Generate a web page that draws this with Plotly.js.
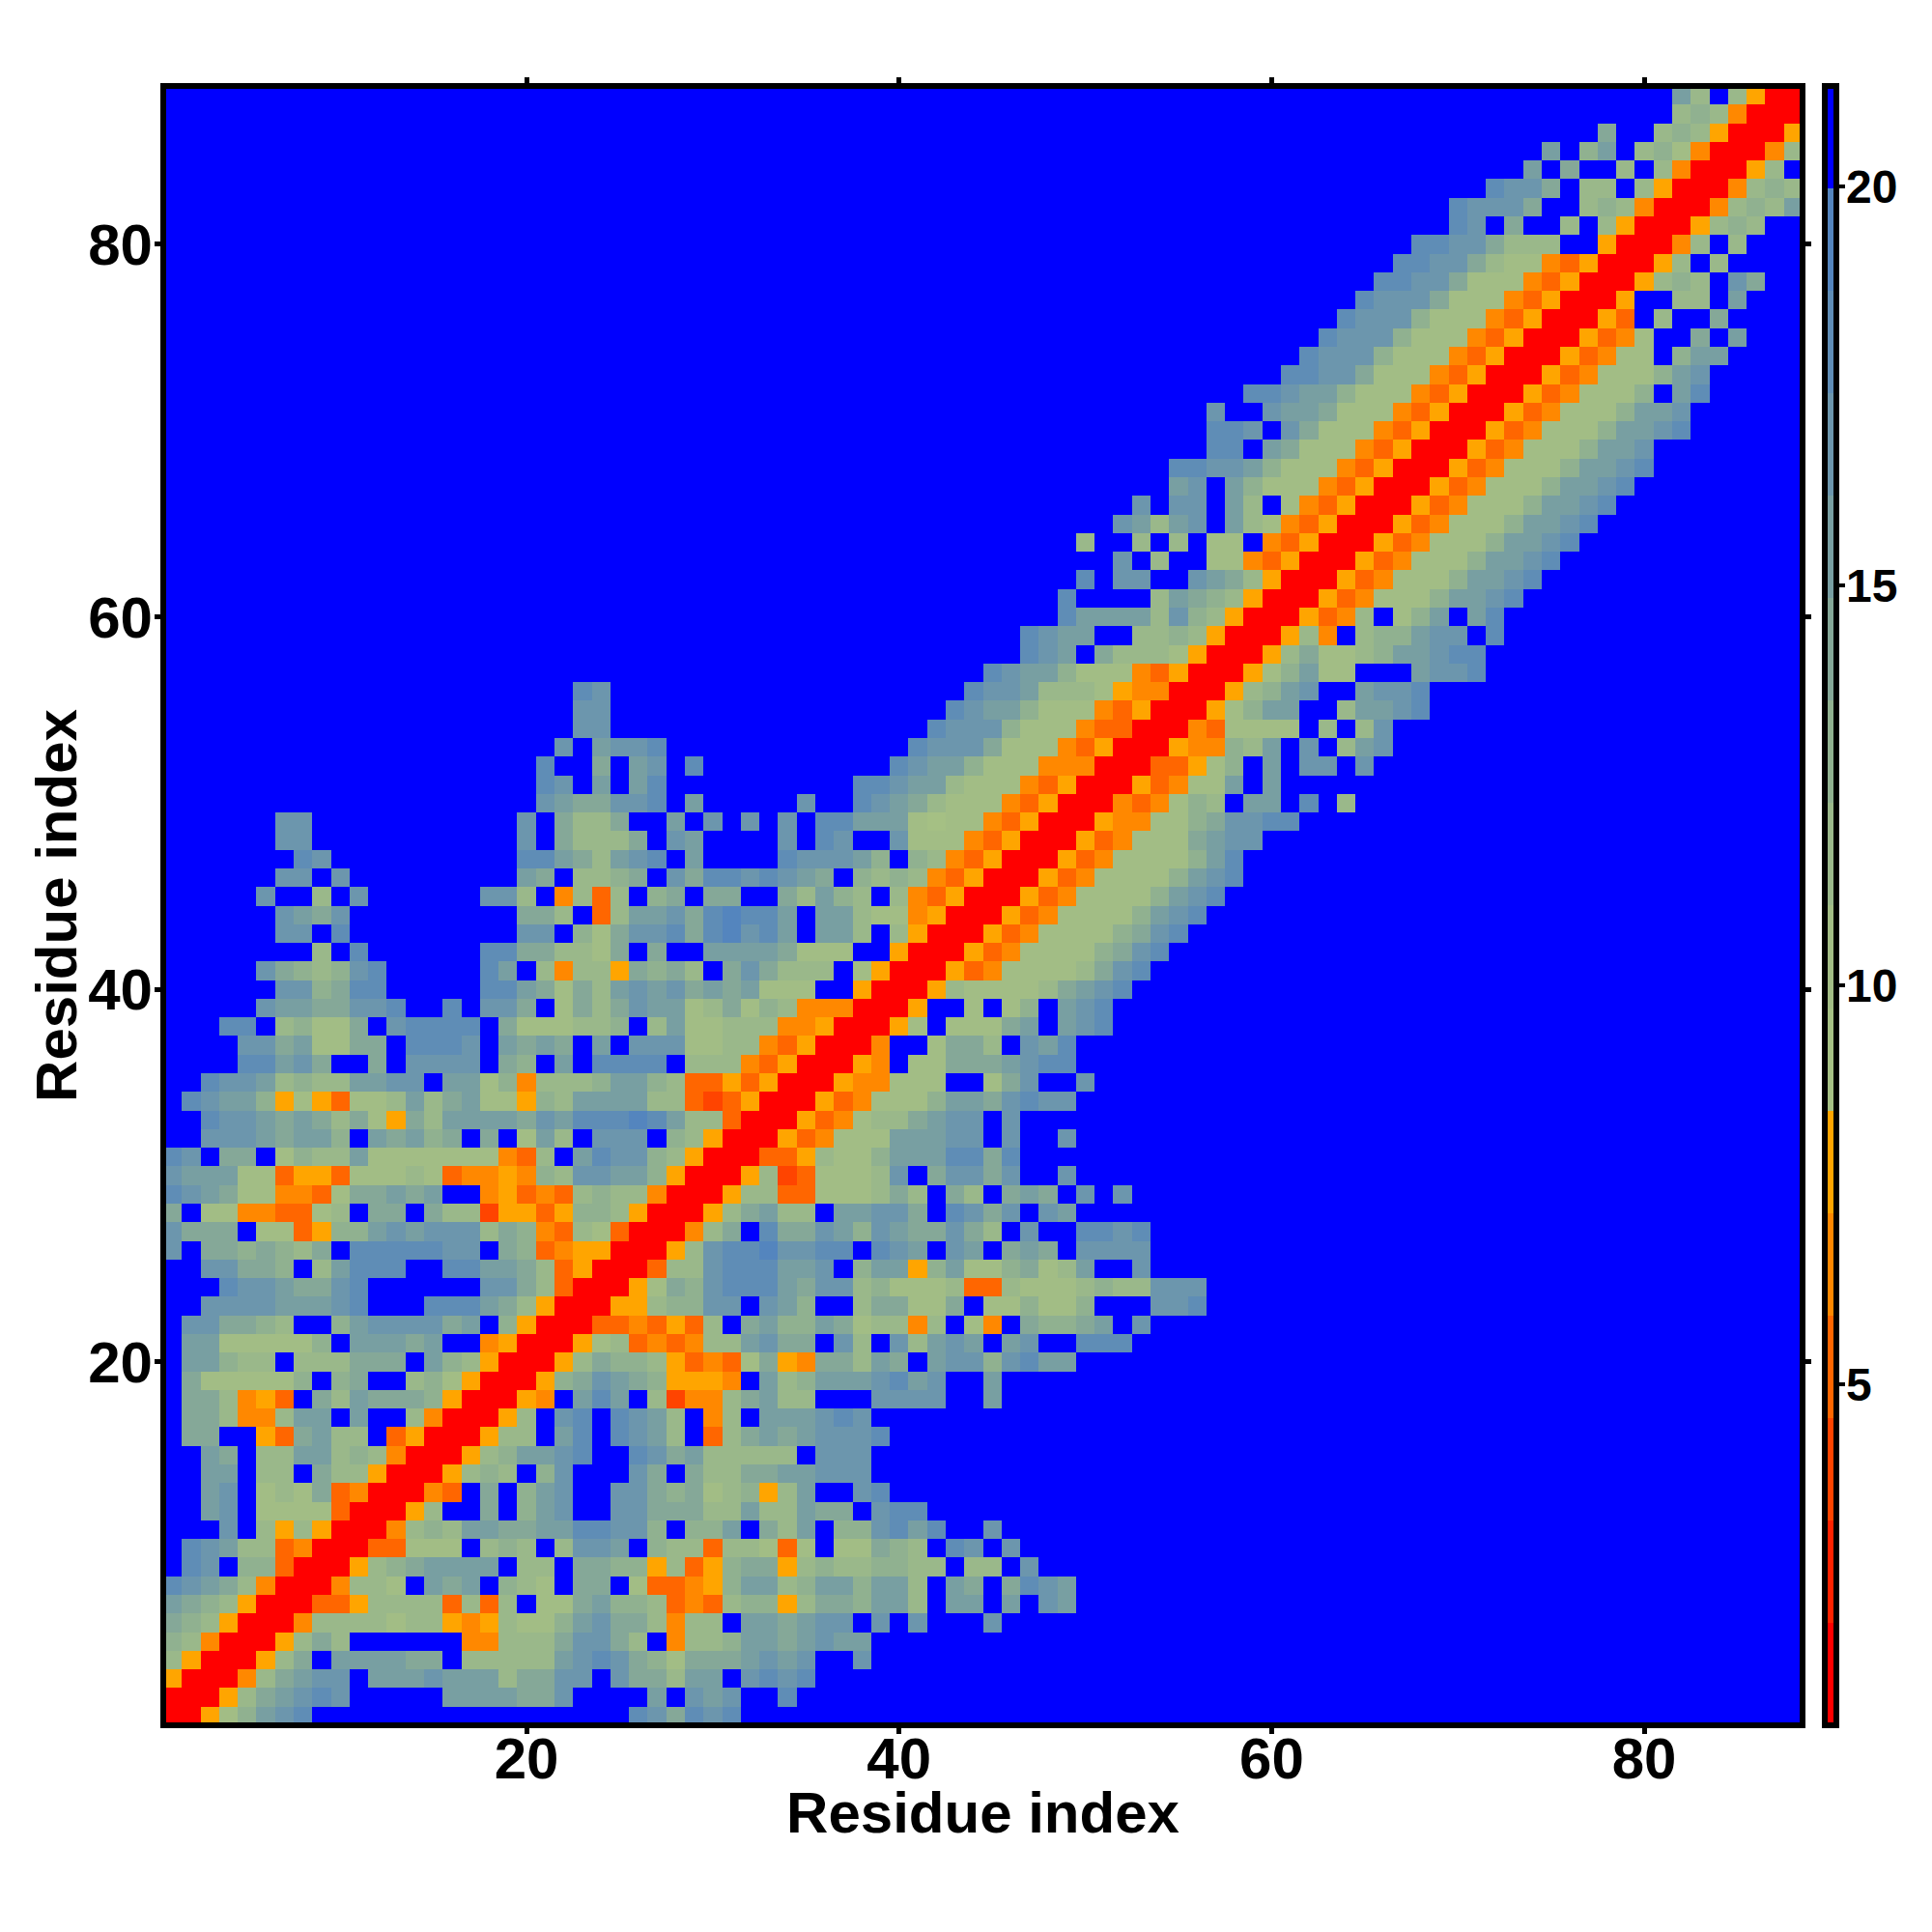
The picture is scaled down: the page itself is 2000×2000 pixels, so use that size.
<!DOCTYPE html>
<html><head><meta charset="utf-8">
<script src="https://cdn.plot.ly/plotly-3.0.1.min.js"></script>
<style>html,body{margin:0;padding:0;background:#fff}#chart{width:2000px;height:2000px}</style>
</head><body><div id="chart"></div>
<script>
// Each line is one row of cells, y = 1 at the start, written in groups of ten columns.
// Blue is '.', red 'R', e/d/n/a are the warm bands, digits 1-9 are the sage-to-steel bands.
const rowCells = [
"RRa24678.. .......... .....87587 8.........",
"RRRa356787 .....66665 57....6.76 7..8......",
"aRRRn35677 .666766635 577.755366 .7878.....",
"3aRRRa35.6 66655.3333 3678754255 56767..7..",
"43nRRRa353 ......nn33 357753.n33 46656766..",
"543aRRRn33 33233ana32 2467553n33 .665677.7. 7...7.....",
"6543aRRRdd a3333d3d3. 2256443dnd 344a355466 3.66.6.76.",
"87653nRRRn 332.656.43 2.55.2ddna 4663466466 3.65.5876.",
".87.44dRRR a3456666.3 3.5544a3da 455a343344 33.33.7...",
".87633dnRR Rdd222.343 .3776.433d 332d2.2254 3.87.7....",
"...7.3a3aR RRn3436655 6688774.44 6.536.4478 68..7.....",
"..67.2222d RRRa3..5.4 67..775553 3633655.78 8.........",
"..67.2325d nRRRnd.5.4 67..775452 34a36..78.",
"..66.33.53 3aRRRa343. 47...75.53 35566777..",
"..65.33663 43nRRRa346 678..87563 3333.777..",
".55..ad563 3.daRRRa33 .68.8763.d 356567778.",
".553nn366. 6..3nRRRa3 .78.8763.n 3.666787..",
".553nad.53 65554aRRRa n.686.3enn 35633...77 77..6.....",
".5222224.4 5..342aRRR a457654aaa n.63466678 67..6.....",
".66433.333 555.643aRR Ra35443adn d25an55365 .67747866.",
".66222224. 66656..naR RRa23dndn3 36755.73.7 3676.67..8 88........",
".775543..4 6777756.4a RRRddndad3 .564465233 n3.2n.5445 6.7.......",
"..77776667 8...888653 aRRRaa3447 7.764..355 225.224224 ...778....",
"...8776557 8......775 3dRRRa2547 8886577342 223dd32223 433777....",
"..77554.36 888..88665 3daRRRd337 888667.466 a462245236 ..7.......",
"7.5545435. 8888877.54 dnaaRRRa37 8897788.87 6.76.565.7 777.......",
"7555.22da4 4676777354 nd32dRRRn3 5.85576476 55753.7..8 878.......",
"5.22nndd23 .55.533eaa da443aRRRa 35633.6677 5.8757.76.",
"876522nnd2 55656..nad nd3433nRRR a33dd22235 3.53.565.7 .7........",
"766622daad 22232dnnan 4377664aRR Ra3ed22237 .57757..7.",
"87.55.2433 62222222nd 3.687743aR RRdda32246 668858....",
"..77765664 .65645.5.2 63.777.43a RRRadn2226 6677.7..7.",
"..87765653 52a5366665 7688898633 dRRRadn233 5677.7....",
".87664a2ad 223635622a 43666633de daRRRadn22 246657877.",
"..87763433 6677.6624n 33346643dd adaRRRann2 22..257..7",
"....88675. .5.7777.54 .6.8888.33 3ndaRRRan. 225556788.",
"....775622 55.8887.65 65.6.77722 33ndaRRRn. .2553.768.",
"...88.3422 5.78888.52 22334.3622 333nnaRRRa 2.22256.67 8.........",
".....76655 778..8.775 .253576623 5243nnnRRR a..2.24.67 8.........",
"......7745 88.....886 5253676756 56222..aRR Ra32222356 78........",
".....75434 78.....86. 3n33a5453. 575333.2aR RRadn22223 578.......",
"........3. 8......885 53325.5..6 6665222..a RRRadn2222 4578......",
"......77.8 .........7 7.42577858 9786.663.3 aRRRadn222 24578.....",
"......7657 .........5 53.d366758 9886.66322 naRRRadn22 224678....",
".....7..3. 7......773 .n3d3.45.5 5..53643.3 ndaRRRadn2 2224678...",
"......77.7 .........6 5.3345.758 878765.434 3ndaRRRadn 22224678..",
".......87. .........8 8653678.6. ...877764. 43ndaRRRad n2222468..",
"......77.. .........7 .53335.76. ...7.87..7 222ndaRRRa dn2225677.",
"......77.. .........7 .5335..6.7 .7.7.88666 2122ndaRRR ann2245778 8.........",
".......... .......... 7655778.6. ....7..876 53222ndaRR Rndn243.66 .8.3......",
".......... .......... 87.6.68... .......887 663222ndaR RRadn226.6",
".......... .......... 8..5.67.8. .........8 7664222nnn RRRdda24.6 .77.7.....",
".......... .......... .7.6778... .......... 87775222nd aRRRann436 .7.367....",
".......... .......... ..77...... .......... .87774222n ddRRRnd222 2.3.37....",
".......... .......... ..77...... .......... ..87664222 ndaRRRa246 6..36678..",
".......... .......... ..87...... .......... ...8776333 2annRRRa34 67..6778..",
".......... .......... .......... .......... ....876642 22ndaRRRa2 4622...677 8.........",
".......... .......... .......... .......... ......876. 53332aRRRa 3522346678 8.........",
".......... .......... .......... .......... ......8766 ..3343aRRR a3n.344677 .8........",
".......... .......... .......... .......... ........86 6663743aRR Radn3.246. 68........",
".......... .......... .......... .......... ........8. ...36543aR RRadn22246 678.......",
".......... .......... .......... .......... .........8 .77..7653a RRRadn2224 6678......",
".......... .......... .......... .......... .......... .7.3..22nd aRRRadn222 46678.....",
".......... .......... .......... .......... .........3 ..3.3.22.n daRRRadn22 246678....",
".......... .......... .......... .......... .......... .76367.632 ndaRRRadn2 2246678...",
".......... .......... .......... .......... .......... ..7.77.63. 2ndaRRRadn 22246678..",
".......... .......... .......... .......... .......... ....67.642 22ndaRRRad n22246678.",
".......... .......... .......... .......... .......... ....887764 222ndaRRRa dn22246678",
".......... .......... .......... .......... .......... ......88.6 5222ndaRRR adn2224667",
".......... .......... .......... .......... .......... ......887. 75222ndaRR Radn222466 78",
".......... .......... .......... .......... .......... ......7..7 665222ndaR RRadn22246 67",
".......... .......... .......... .......... .......... ........88 7664222nda RRRadn2224 .68",
".......... .......... .......... .......... .......... .......... 88775222nd aRRRadn222 467",
".......... .......... .......... .......... .......... .......... .87774222n daRRRadn22 .466",
".......... .......... .......... .......... .......... .......... ..87774222 ndaRRRadn2 ..5.6",
".......... .......... .......... .......... .......... .......... ...8777422 2ndaRRRad. 3..5",
".......... .......... .......... .......... .......... .......... ....877752 22ndaRRRa. .33.6",
".......... .......... .......... .......... .......... .......... .....88775 222ndaRRRa 343.75",
".......... .......... .......... .......... .......... .......... ......8877 5322ndaRRR a3.3",
".......... .......... .......... .......... .......... .......... .......887 75333..aRR Rn3.3",
".......... .......... .......... .......... .......... .......... .........8 7.5..3.3aR RRa343",
".......... .......... .......... .......... .......... .......... .........8 7775..343n RRRn3436",
".......... .......... .......... .......... .......... .......... .......... .8775.33.3 aRRRn343",
".......... .......... .......... .......... .......... .......... .......... ...6.5..3. 3nRRRa3.",
".......... .......... .......... .......... .......... .......... .......... ....6.46.3 42nRRRn3",
".......... .......... .......... .......... .......... .......... .......... .......5.. 343aRRRa",
".......... .......... .......... .......... .......... .......... .......... .......... .343nRRR",
".......... .......... .......... .......... .......... .......... .......... .......... .63.3aRR"
];

const residues = Array.from({length: 88}, (_, i) => i + 1);

// Value shown by each cell symbol (middle of its colour band)
const cellValues = {R:1.37, e:3.94, d:5.22, n:6.5, a:7.79,
  "1":9.07, "2":10.36, "3":11.64, "4":12.92, "5":14.21,
  "6":15.49, "7":16.77, "8":18.06, "9":19.34, ".":20.62};

const bandColors = ["#ff0000","#ff2200","#ff4400","#ff6600","#ff8800","#ffa500",
  "#a5c084","#a2bd85","#9ab88a","#90b190","#85a898","#789fa2","#6c96ad","#5f8db6","#5485be","#0000ff"];

const zMin = 0.73, zMax = 21.26;
const colorTicks = [5, 10, 15, 20];
const axisTicks = [20, 40, 60, 80];

const z = rowCells.map(r => {
  const groups = r.split(" ");
  const cells = [];
  for (let g = 0; g < 9; g++) {
    const w = g === 8 ? 8 : 10;
    const s = (groups[g] || "").padEnd(w, ".").slice(0, w);
    for (const c of s) cells.push(cellValues[c]);
  }
  return cells;
});

const n = bandColors.length;
const colorscale = [];
bandColors.forEach((c, i) => { colorscale.push([i / n, c]); colorscale.push([(i + 1) / n, c]); });

const fontFam = "'Liberation Sans', Arial, sans-serif";
const L = 172.3, R = 1863, T = 92.3, Bt = 1783;
const inset = 3 / 19.28;

const axisCommon = {
  range: [0.5 + inset, 88.5 - inset], tickmode: "array", tickvals: axisTicks, ticktext: axisTicks.map(String),
  showgrid: false, zeroline: false, showline: true, linecolor: "#000", linewidth: 6,
  mirror: "ticks", ticks: "outside", ticklen: 6, tickwidth: 5, tickcolor: "#000",
  tickfont: {family: fontFam, size: 60, color: "#000", weight: 700}
};

function nudge(selector, dx, dy) {
  document.querySelectorAll(selector).forEach(t => {
    t.setAttribute("transform", "translate(" + dx + "," + dy + ") " + (t.getAttribute("transform") || ""));
  });
}

Plotly.newPlot("chart", [{
  type: "heatmap", x: residues, y: residues, z: z,
  zmin: zMin, zmax: zMax, colorscale: colorscale, zsmooth: false, hoverongaps: false,
  colorbar: {
    x: (1889 - L) / (R - L), xanchor: "left", xpad: 0,
    y: -3 / (Bt - T), yanchor: "bottom", ypad: 0,
    len: (1786 - 89.3) / (Bt - T), lenmode: "fraction", thickness: 12, thicknessmode: "pixels",
    outlinewidth: 6, outlinecolor: "#000", borderwidth: 0,
    tickmode: "array", tickvals: colorTicks, ticktext: colorTicks.map(String),
    ticks: "outside", ticklen: 6, tickwidth: 4, tickcolor: "#000",
    tickfont: {family: fontFam, size: 48, color: "#000", weight: 700}
  }
}], {
  width: 2000, height: 2000, paper_bgcolor: "#fff", plot_bgcolor: "#fff", showlegend: false,
  margin: {l: L, r: 2000 - R, t: T, b: 2000 - Bt, pad: 0, autoexpand: false},
  font: {family: fontFam, color: "#000"},
  xaxis: Object.assign({}, axisCommon, {
    ticklabelstandoff: -26,
    title: {text: "Residue index", standoff: 0, font: {family: fontFam, size: 60, color: "#000", weight: 700}}
  }),
  yaxis: Object.assign({}, axisCommon, {
    ticklabelstandoff: -10,
    title: {text: "Residue index", standoff: 0, font: {family: fontFam, size: 60, color: "#000", weight: 700}}
  })
}, {displayModeBar: false, staticPlot: true}).then(() => {
  nudge(".colorbar .cbaxis text", -8, 0);
  nudge(".xtitle", 0, -11);
  nudge(".ytitle", 6, 0);
});
</script></body></html>
